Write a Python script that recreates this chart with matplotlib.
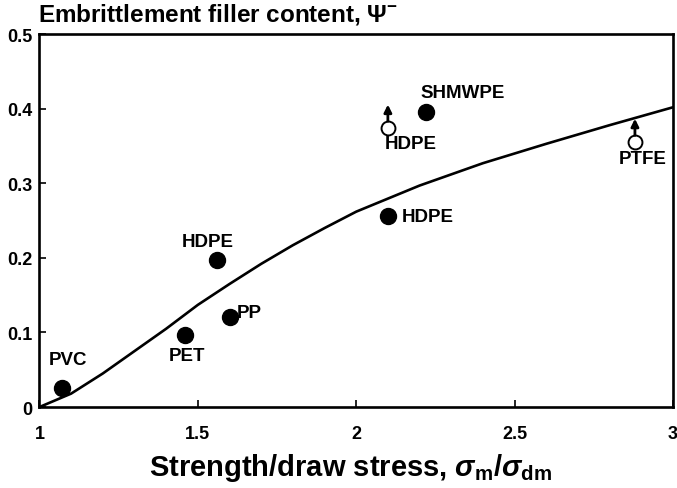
import matplotlib
matplotlib.use("Agg")
import matplotlib.pyplot as plt
from matplotlib.transforms import offset_copy

# Model curve: embrittlement filler content vs. strength / draw stress ratio
curve_x = [1.0, 1.1, 1.2, 1.3, 1.4, 1.5, 1.6, 1.7, 1.8, 1.9, 2.0, 2.2, 2.4, 2.6, 2.8, 3.0]
curve_y = [0.0, 0.018, 0.045, 0.075, 0.105, 0.137, 0.165, 0.192, 0.217, 0.24, 0.262,
           0.297, 0.327, 0.353, 0.378, 0.402]

# Measured polymers (filled symbols)
solid_names = ["PVC", "PET", "PP", "HDPE", "HDPE", "SHMWPE"]
solid_x = [1.07, 1.46, 1.60, 1.56, 2.10, 2.22]
solid_y = [0.025, 0.097, 0.121, 0.197, 0.256, 0.395]

# Lower bounds (open symbols with arrows)
open_names = ["HDPE", "PTFE"]
open_x = [2.10, 2.88]
open_y = [0.374, 0.355]

x_ticks = [1, 1.5, 2, 2.5, 3]
x_tick_labels = ["1", "1.5", "2", "2.5", "3"]
y_ticks = [0, 0.1, 0.2, 0.3, 0.4, 0.5]
y_tick_labels = ["0", "0.1", "0.2", "0.3", "0.4", "0.5"]

plt.rcParams["font.family"] = ["Liberation Sans", "DejaVu Sans"]
plt.rcParams["font.weight"] = "bold"
plt.rcParams["mathtext.fontset"] = "custom"
plt.rcParams["mathtext.rm"] = "Liberation Sans:bold"
plt.rcParams["mathtext.bf"] = "Liberation Sans:bold"
plt.rcParams["mathtext.it"] = "Liberation Sans:italic:bold"

fig = plt.figure(figsize=(6.77, 4.89), dpi=100)
ax = fig.add_axes([0.0583, 0.1656, 0.9357, 0.7624])

ax.plot(curve_x, curve_y, color="black", lw=1.9, solid_capstyle="round")
ax.plot(solid_x, solid_y, "o", color="black", ms=11.5, zorder=3)
ax.plot(open_x, open_y, "o", mfc="white", mec="black", mew=1.4, ms=10, zorder=3)

# Upward arrows on the open symbols
base = offset_copy(ax.transData, fig=fig, x=0, y=5, units="points")
tip = offset_copy(ax.transData, fig=fig, x=0, y=17, units="points")
for x, y in zip(open_x, open_y):
    ax.annotate("", xy=(x, y), xycoords=tip, xytext=(x, y), textcoords=base,
                arrowprops=dict(arrowstyle="-|>", lw=2.0, color="black",
                                mutation_scale=11, shrinkA=0, shrinkB=0))

lab_fs = 13.5
ax.text(1.09, 0.064, "PVC", ha="center", va="center", fontsize=lab_fs)
ax.text(1.465, 0.069, "PET", ha="center", va="center", fontsize=lab_fs)
ax.text(1.623, 0.127, "PP", ha="left", va="center", fontsize=lab_fs)
ax.text(1.532, 0.222, "HDPE", ha="center", va="center", fontsize=lab_fs)
ax.text(2.145, 0.256, "HDPE", ha="left", va="center", fontsize=lab_fs)
ax.text(2.337, 0.422, "SHMWPE", ha="center", va="center", fontsize=lab_fs)
ax.text(2.172, 0.353, open_names[0], ha="center", va="center", fontsize=lab_fs)
ax.text(2.905, 0.333, open_names[1], ha="center", va="center", fontsize=lab_fs)

ax.set_xlim(1, 3)
ax.set_ylim(0, 0.5)
ax.set_xticks(x_ticks)
ax.set_xticklabels(x_tick_labels)
ax.set_yticks(y_ticks)
ax.set_yticklabels(y_tick_labels)
ax.tick_params(axis="both", direction="in", length=5, width=1.2, labelsize=13)
ax.tick_params(axis="x", pad=13)
ax.tick_params(axis="y", pad=5)

for s in ax.spines.values():
    s.set_linewidth(1.9)

fig.text(0.056, 0.970, r"Embrittlement filler content, $\mathit{\Psi}^{-}$",
         ha="left", va="center", fontsize=17.5, fontweight="bold")
fig.text(0.517, 0.043, r"Strength/draw stress, $\mathit{σ}_{\mathrm{m}}/\mathit{σ}_{\mathrm{dm}}$",
         ha="center", va="center", fontsize=21, fontweight="bold")

fig.savefig("out.png", dpi=100)
